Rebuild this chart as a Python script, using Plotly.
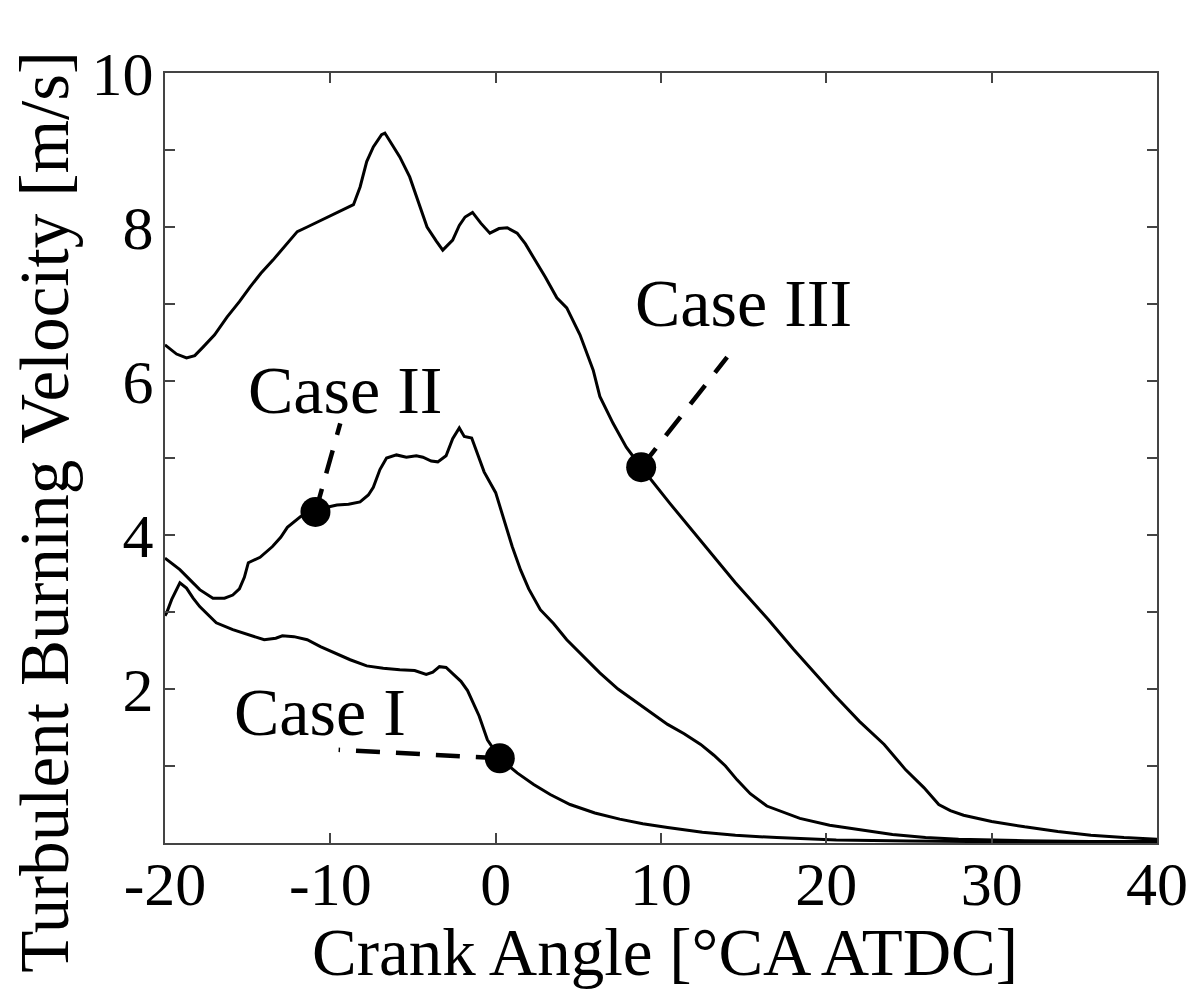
import plotly.graph_objects as go

# ---- data ----
case3_x = [-20, -19.3, -18.7, -18.2, -17.7, -17.0, -16.25, -15.5, -14.86, -14.2, -13.47, -12.7, -12.0, -11.4,
           -10.8, -10.2, -9.4, -8.6, -8.2, -7.8, -7.4, -6.9, -6.7, -6.3, -5.8, -5.2, -4.7, -4.15, -3.6, -3.2,
           -2.6, -2.2, -1.85, -1.4, -0.9, -0.35, 0.2, 0.7, 1.3, 1.8, 2.3, 3.0, 3.7, 4.3, 5.1, 5.9, 6.3, 7.1,
           7.9, 8.8, 10.5, 12.5, 14.5, 16.5, 18.0, 19.5, 20.5, 22.0, 23.5, 24.8, 25.9, 26.8, 27.5, 28.3, 30.0,
           32.0, 34.0, 36.0, 38.0, 40.0]
case3_y = [6.47, 6.35, 6.30, 6.33, 6.44, 6.60, 6.83, 7.03, 7.22, 7.40, 7.57, 7.77, 7.94, 8.00,
           8.06, 8.13, 8.21, 8.29, 8.52, 8.85, 9.04, 9.20, 9.22, 9.08, 8.91, 8.65, 8.35, 8.00, 7.82, 7.70,
           7.83, 8.02, 8.13, 8.19, 8.05, 7.92, 7.98, 7.99, 7.92, 7.78, 7.60, 7.35, 7.08, 6.95, 6.60, 6.14, 5.80, 5.45,
           5.14, 4.88, 4.42, 3.90, 3.38, 2.90, 2.52, 2.16, 1.92, 1.58, 1.28, 0.95, 0.72, 0.50, 0.42, 0.36, 0.28,
           0.21, 0.15, 0.10, 0.07, 0.05]

case2_x = [-20, -19.1, -18.5, -17.9, -17.1, -16.4, -15.9, -15.5, -15.2, -14.96, -14.25, -13.5, -13.0, -12.6,
           -11.8, -10.9, -10.2, -9.6, -8.9, -8.2, -7.7, -7.4, -7.0, -6.6, -6.0, -5.4, -4.8, -4.4, -3.9, -3.5,
           -3.0, -2.6, -2.2, -1.9, -1.45, -1.0, -0.7, 0.0, 0.45, 1.0, 1.5, 2.0, 2.7, 3.5, 4.3, 5.3, 6.3, 7.4,
           8.3, 9.4, 10.4, 11.4, 12.4, 13.2, 13.9, 14.6, 15.4, 16.4, 17.5, 18.4, 20.2, 22.0, 24.0, 26.0, 28.0,
           32.0, 36.0, 40.0]
case2_y = [3.70, 3.55, 3.42, 3.29, 3.18, 3.18, 3.22, 3.30, 3.45, 3.64, 3.71, 3.85, 3.97, 4.10,
           4.24, 4.30, 4.36, 4.39, 4.40, 4.43, 4.52, 4.62, 4.85, 5.00, 5.04, 5.01, 5.03, 5.01, 4.96, 4.95,
           5.03, 5.25, 5.39, 5.28, 5.26, 4.98, 4.82, 4.55, 4.22, 3.85, 3.55, 3.30, 3.03, 2.85, 2.64, 2.42, 2.21, 2.00,
           1.86, 1.70, 1.54, 1.42, 1.28, 1.14, 1.00, 0.82, 0.64, 0.48, 0.39, 0.32, 0.23, 0.17, 0.11, 0.07, 0.05,
           0.03, 0.02, 0.02]

case1_x = [-20, -19.9, -19.6, -19.1, -18.7, -18.3, -17.9, -17.4, -16.9, -15.9, -14.8, -14.0, -13.3, -12.9,
           -12.2, -11.4, -10.6, -9.8, -8.8, -7.8, -6.8, -5.8, -4.9, -4.2, -3.8, -3.4, -3.0, -2.6, -2.1, -1.7,
           -1.3, -1.0, -0.5, 0.25, 1.3, 2.3, 3.3, 4.5, 6.0, 7.5, 8.9, 10.4, 12.5, 14.5, 17.0, 20.6, 25.0, 30.0,
           35.0, 40.0]
case1_y = [2.95, 2.99, 3.16, 3.38, 3.31, 3.18, 3.07, 2.96, 2.86, 2.77, 2.70, 2.64, 2.66, 2.69,
           2.68, 2.64, 2.55, 2.47, 2.38, 2.30, 2.27, 2.25, 2.24, 2.19, 2.22, 2.29, 2.28, 2.20, 2.10, 1.98,
           1.80, 1.65, 1.34, 1.10, 0.91, 0.76, 0.63, 0.50, 0.39, 0.31, 0.25, 0.20, 0.14, 0.10, 0.07, 0.04, 0.025, 0.015,
           0.01, 0.01]

case_labels = ["Case I", "Case II", "Case III"]
marker_x = [0.25, -10.9, 8.8]
marker_y = [1.10, 4.30, 4.88]
leader_end_x = [-9.5, -9.4, 14.0]
leader_end_y = [1.21, 5.45, 6.31]
label_x = [-10.6, -9.1, 14.96]
label_y = [1.70, 5.88, 7.01]

x_ticks = [-20, -10, 0, 10, 20, 30, 40]
x_tick_text = ["-20", "-10", "0", "10", "20", "30", "40"]
y_ticks = [1, 2, 3, 4, 5, 6, 7, 8, 9, 10]
y_tick_text = ["", "2", "", "4", "", "6", "", "8", "", "10"]

x_title = "Crank Angle [°CA ATDC]"
y_title = "Turbulent Burning Velocity [m/s]"

FONT = "Liberation Serif"

fig = go.Figure()
for xs, ys in [(case3_x, case3_y), (case2_x, case2_y), (case1_x, case1_y)]:
    fig.add_trace(go.Scatter(x=xs, y=ys, mode="lines",
                             line=dict(color="black", width=3), showlegend=False))

for i in range(3):
    fig.add_trace(go.Scatter(x=[marker_x[i], leader_end_x[i]], y=[marker_y[i], leader_end_y[i]],
                             mode="lines", line=dict(color="black", width=4.5, dash="24px,16px"),
                             showlegend=False))
fig.add_trace(go.Scatter(x=marker_x, y=marker_y, mode="markers",
                         marker=dict(color="black", size=30), showlegend=False))

for i in range(3):
    fig.add_annotation(x=label_x[i], y=label_y[i], text=case_labels[i], showarrow=False,
                       font=dict(family=FONT, size=68, color="black"))

# axis titles (positioned as in the reference)
fig.add_annotation(xref="paper", yref="paper", x=0.504, y=-0.141, text=x_title, showarrow=False,
                   xanchor="center", yanchor="middle",
                   font=dict(family=FONT, size=67, color="black"))
fig.add_annotation(xref="paper", yref="paper", x=-0.121, y=0.43, text=y_title, showarrow=False,
                   textangle=-90, xanchor="center", yanchor="middle",
                   font=dict(family=FONT, size=69, color="black"))

axis_common = dict(showline=True, linecolor="#444", linewidth=2, mirror="ticks",
                   ticks="inside", ticklen=10, tickwidth=2, tickcolor="#444",
                   showgrid=False, zeroline=False, automargin=False,
                   tickfont=dict(family=FONT, size=62, color="black"))

fig.update_xaxes(range=[-20, 40], tickvals=x_ticks, ticktext=x_tick_text,
                 ticklabelstandoff=-14, **axis_common)
fig.update_yaxes(range=[0, 10], tickvals=y_ticks, ticktext=y_tick_text,
                 ticklabelstandoff=-3, **axis_common)

fig.update_layout(width=1187, height=982,
                  margin=dict(l=157, r=38, t=65, b=147),
                  paper_bgcolor="white", plot_bgcolor="white")

fig.write_html("out.html")
